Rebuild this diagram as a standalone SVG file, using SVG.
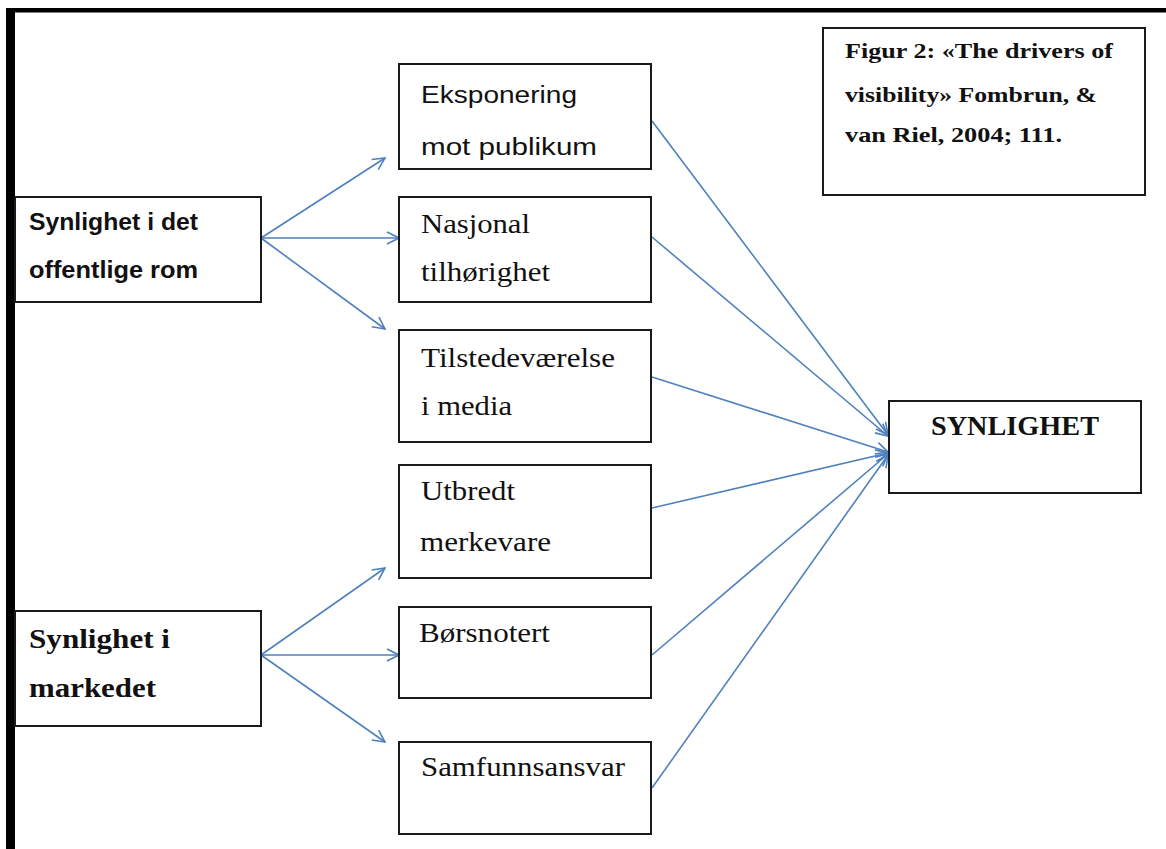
<svg xmlns="http://www.w3.org/2000/svg" width="1166" height="849" viewBox="0 0 1166 849">
  <defs>
    <style>
      .box { fill: #ffffff; stroke: #1a1a1a; stroke-width: 2; }
      .sans { font-family: "Liberation Sans", Arial, sans-serif; font-size: 23px; fill: #111; }
      .sansb { font-family: "Liberation Sans", Arial, sans-serif; font-size: 23px; font-weight: bold; fill: #111; }
      .serif { font-family: "Liberation Serif", "Times New Roman", serif; font-size: 27px; fill: #111; }
      .serifb { font-family: "Liberation Serif", "Times New Roman", serif; font-size: 27px; font-weight: bold; fill: #111; }
      .cap { font-family: "Liberation Serif", "Times New Roman", serif; font-size: 22px; font-weight: bold; fill: #111; }
      .conn { stroke: #4f81bd; stroke-width: 1.6; fill: none; }
    </style>
    <marker id="arrow" viewBox="0 0 14 14" refX="13" refY="7" markerWidth="14" markerHeight="14" markerUnits="userSpaceOnUse" orient="auto">
      <path d="M1,1 L13,7 L1,13" fill="none" stroke="#4f81bd" stroke-width="1.6"/>
    </marker>
  </defs>
  <rect x="0" y="0" width="1166" height="849" fill="#ffffff"/>
  <g id="frame">
    <rect x="6" y="8" width="1160" height="4.5" fill="#000"/>
    <rect x="6" y="8" width="9" height="841" fill="#000"/>
  </g>

  <g id="connectors">
    <line class="conn" x1="261" y1="238" x2="385" y2="158" marker-end="url(#arrow)"/>
    <line class="conn" x1="261" y1="238" x2="399" y2="238" marker-end="url(#arrow)"/>
    <line class="conn" x1="261" y1="238" x2="385" y2="329" marker-end="url(#arrow)"/>
    <line class="conn" x1="261" y1="655" x2="385" y2="568" marker-end="url(#arrow)"/>
    <line class="conn" x1="261" y1="655" x2="399" y2="655" marker-end="url(#arrow)"/>
    <line class="conn" x1="261" y1="655" x2="385" y2="742" marker-end="url(#arrow)"/>
    <line class="conn" x1="652" y1="121" x2="888" y2="435" marker-end="url(#arrow)"/>
    <line class="conn" x1="652" y1="237" x2="888" y2="436" marker-end="url(#arrow)"/>
    <line class="conn" x1="652" y1="377" x2="888" y2="452" marker-end="url(#arrow)"/>
    <line class="conn" x1="652" y1="508" x2="888" y2="453" marker-end="url(#arrow)"/>
    <line class="conn" x1="652" y1="655" x2="888" y2="454" marker-end="url(#arrow)"/>
    <line class="conn" x1="652" y1="788" x2="888" y2="455" marker-end="url(#arrow)"/>
  </g>

  <g id="node-offentlige">
    <rect class="box" x="15" y="197" width="246" height="105"/>
    <text class="sansb" x="29" y="230" textLength="169" lengthAdjust="spacingAndGlyphs">Synlighet i det</text>
    <text class="sansb" x="29" y="278" textLength="169" lengthAdjust="spacingAndGlyphs">offentlige rom</text>
  </g>

  <g id="node-markedet">
    <rect class="box" x="15" y="611" width="246" height="115"/>
    <text class="serifb" x="29" y="648" textLength="141" lengthAdjust="spacingAndGlyphs">Synlighet i</text>
    <text class="serifb" x="29" y="697" textLength="127" lengthAdjust="spacingAndGlyphs">markedet</text>
  </g>

  <g id="node-eksponering">
    <rect class="box" x="399" y="64" width="252" height="105"/>
    <text class="sans" x="421" y="103" textLength="156" lengthAdjust="spacingAndGlyphs">Eksponering</text>
    <text class="sans" x="421" y="155" textLength="176" lengthAdjust="spacingAndGlyphs">mot publikum</text>
  </g>

  <g id="node-nasjonal">
    <rect class="box" x="399" y="197" width="252" height="105"/>
    <text class="serif" x="421" y="233" textLength="109" lengthAdjust="spacingAndGlyphs">Nasjonal</text>
    <text class="serif" x="421" y="281" textLength="129" lengthAdjust="spacingAndGlyphs">tilhørighet</text>
  </g>

  <g id="node-tilstede">
    <rect class="box" x="399" y="330" width="252" height="112"/>
    <text class="serif" x="421" y="367" textLength="194" lengthAdjust="spacingAndGlyphs">Tilstedeværelse</text>
    <text class="serif" x="421" y="415" textLength="91" lengthAdjust="spacingAndGlyphs">i media</text>
  </g>

  <g id="node-utbredt">
    <rect class="box" x="399" y="465" width="252" height="113"/>
    <text class="serif" x="421" y="500" textLength="94" lengthAdjust="spacingAndGlyphs">Utbredt</text>
    <text class="serif" x="420" y="551" textLength="131" lengthAdjust="spacingAndGlyphs">merkevare</text>
  </g>

  <g id="node-borsnotert">
    <rect class="box" x="399" y="607" width="252" height="91"/>
    <text class="serif" x="419" y="642" textLength="131" lengthAdjust="spacingAndGlyphs">Børsnotert</text>
  </g>

  <g id="node-samfunn">
    <rect class="box" x="399" y="742" width="252" height="92"/>
    <text class="serif" x="421" y="776" textLength="204" lengthAdjust="spacingAndGlyphs">Samfunnsansvar</text>
  </g>

  <g id="node-synlighet">
    <rect class="box" x="889" y="401" width="252" height="92"/>
    <text class="serifb" x="1015" y="435" text-anchor="middle" textLength="168" lengthAdjust="spacingAndGlyphs">SYNLIGHET</text>
  </g>

  <g id="node-caption">
    <rect class="box" x="823" y="28" width="322" height="167"/>
    <text class="cap" x="845" y="58" textLength="268" lengthAdjust="spacingAndGlyphs">Figur 2: «The drivers of</text>
    <text class="cap" x="845" y="102" textLength="252" lengthAdjust="spacingAndGlyphs">visibility» Fombrun, &amp;</text>
    <text class="cap" x="845" y="142" textLength="217" lengthAdjust="spacingAndGlyphs">van Riel, 2004; 111.</text>
  </g>
</svg>
